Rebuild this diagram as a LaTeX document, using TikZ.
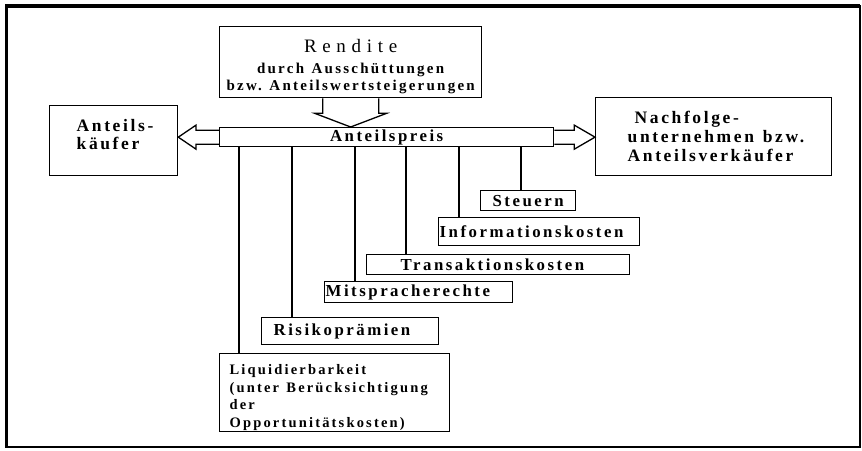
\documentclass[tikz,border=0pt]{standalone}
\usepackage{fontspec}
\setmainfont{Liberation Serif}
\newfontfamily\sperr[LetterSpace=15]{Liberation Serif}
\newfontfamily\sperrw[LetterSpace=30]{Liberation Serif}
\newcommand\wz{\nobreak\hspace{0.5em}}
\usetikzlibrary{calc}

\begin{document}
\begin{tikzpicture}[x=1pt,y=-1pt,
    kasten/.style={draw=black, line width=1.3pt, inner ysep=0pt, align=left, anchor=north west,
      font=\sperr\bfseries\fontsize{16.8}{18}\selectfont},
    pfeil/.style={draw=black, line width=1.3pt, line join=miter},
    linie/.style={draw=black, line width=1.2pt}]
    \useasboundingbox (0,0) rectangle (862,450);
    \draw [black, line width=1.2pt] (6,6) rectangle (860,447);
    \draw [black, line width=3.5pt] (6.5,447) -- (6.5,6) -- (860,6);
    \node [kasten, align=center, text width=258pt, inner xsep=2pt, minimum height=71pt,
      font=\sperr\bfseries\fontsize{15}{17}\selectfont] (ren) at (219,26)
      {\rule{0pt}{23pt}{\sperrw\fontsize{19}{19}\selectfont\mdseries Rendite}\\[4pt]
       durch\wz Ausschüttungen\\ bzw.\wz Anteilswertsteigerungen};
    \node [kasten, align=center, text width=330pt, inner xsep=2pt, minimum height=19pt] (preis) at (219,127) {Anteilspreis};
    \node [kasten, text width=74pt, inner xsep=27pt, minimum height=70pt,
      font=\sperr\bfseries\fontsize{17.5}{18}\selectfont] (kaeufer) at (49,105)
      {\mbox{Anteils-}\\käufer\rule[-12pt]{0pt}{12pt}};
    \node [kasten, text width=172pt, inner xsep=32pt, minimum height=78pt,
      font=\sperr\bfseries\fontsize{17.5}{19}\selectfont] (nachf) at (595,97)
      {\hspace*{7pt}Nachfolge-\\\mbox{unternehmen\wz bzw.}\\Anteilsverkäufer};
    \node [kasten, align=center, text width=79pt, inner xsep=8pt, minimum height=20pt] (steu) at (480,190) {Steuern};
    \node [kasten, text width=199pt, inner xsep=1pt, minimum height=28pt] (info) at (438,217) {Informationskosten};
    \node [kasten, text width=195pt, inner xsep=34pt, minimum height=20pt] (trans) at (366,254) {Transaktionskosten};
    \node [kasten, text width=186pt, inner xsep=1pt, minimum height=21pt] (mit) at (324,281) {Mitspracherechte};
    \node [kasten, text width=153pt, inner xsep=12pt, minimum height=27pt] (risk) at (261,317) {Risikoprämien};
    \node [kasten, text width=210pt, inner xsep=10pt, minimum height=78pt,
      font=\sperr\bfseries\fontsize{14.5}{17.7}\selectfont] (liq) at (219,353)
      {\rule{0pt}{20pt}Liquidierbarkeit\\\mbox{(unter\wz Berücksichtigung}\\der\\Opportunitätskosten)};
    \draw [pfeil] ($(ren.south)+(-28,0)$) -- ++(0,15) -- ++(-8,0) -- (ren.south |- preis.north)
      -- ($(ren.south)+(36,15)$) -- ++(-8,0) -- ($(ren.south)+(28,0)$);
    \draw [pfeil] ($(preis.west)+(0,-7)$) -- ++(-23,0) -- ++(0,-5) -- (kaeufer.east |- preis.west)
      -- ($(preis.west)+(-23,12)$) -- ++(0,-5) -- ($(preis.west)+(0,7)$);
    \draw [pfeil] ($(preis.east)+(0,-7)$) -- ++(20,0) -- ++(0,-5) -- (nachf.west |- preis.east)
      -- ($(preis.east)+(20,12)$) -- ++(0,-5) -- ($(preis.east)+(0,7)$);
    \foreach \n/\dx in {liq/20, risk/31, mit/31, trans/40, info/21, steu/41} {
      \coordinate (\n a) at ($(\n.north west)+(\dx,0)$);
      \draw [linie] (\n a |- preis.south) -- (\n a);
    }
\end{tikzpicture}
\end{document}
